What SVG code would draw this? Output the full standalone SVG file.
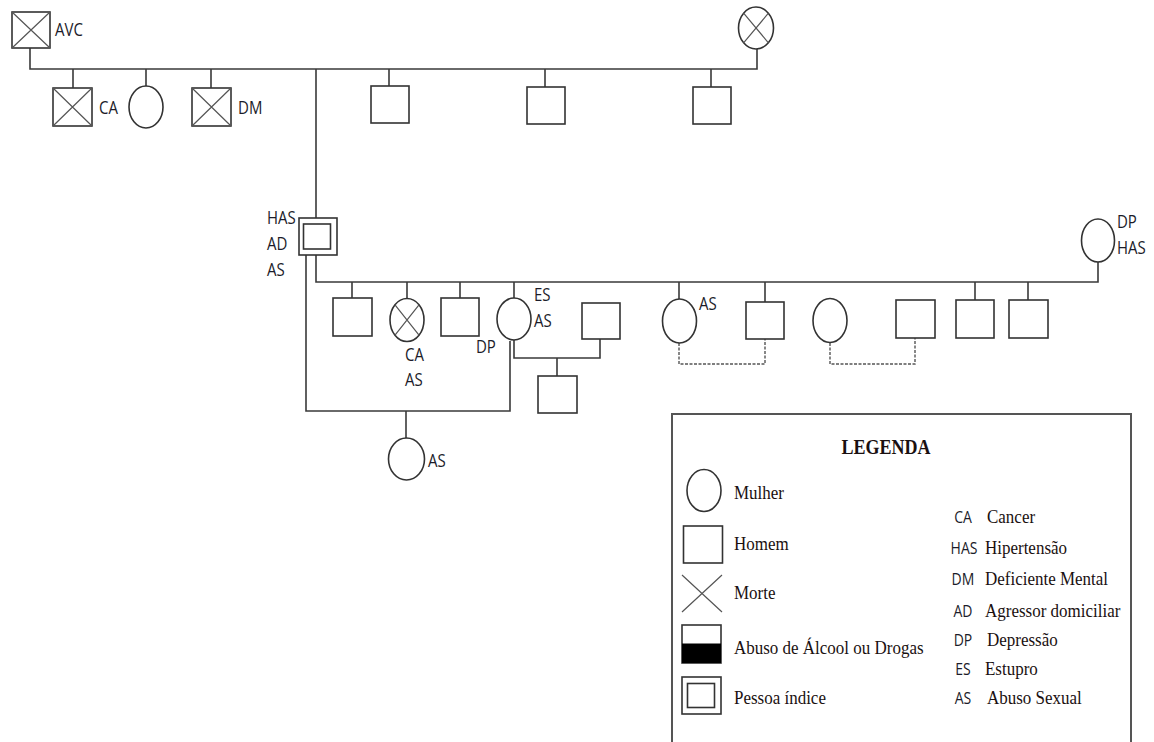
<svg xmlns="http://www.w3.org/2000/svg" width="1154" height="742" viewBox="0 0 1154 742">
<style>
.s{fill:#fff;stroke:#333;stroke-width:1.6}
.x{stroke:#555;stroke-width:1.2;fill:none}
.ln{stroke:#3a3a3a;stroke-width:1.6;fill:none}
.d{stroke:#555;stroke-width:1.4;fill:none;stroke-dasharray:3 1.5}
.lb,.lg,.ab,.tt{transform-box:fill-box;transform-origin:50% 50%;transform:scaleY(1.15)}
.lb{font-family:"Open Sans","Liberation Sans",sans-serif;font-size:15px;fill:#1c1c2a}
.lg{font-family:"Liberation Serif","Times New Roman",serif;font-size:17px;fill:#1a1010}
.ab{font-family:"Open Sans","Liberation Sans",sans-serif;font-size:14px;fill:#1c1c2a;text-anchor:middle}
</style>
<rect width="1154" height="742" fill="#fff"/>
<g id="connectors">
<path class="ln" d="M30 48V69H757V49"/>
<path class="ln" d="M73 69V88M146 69V86M211 69V88M316 69V218M389 69V86M545 69V87M711 69V87"/>
<path class="ln" d="M316 255V282H1098V262"/>
<path class="ln" d="M352 282V298M407 282V298M460 282V298M514 282V298M679 282V299M765 282V302M975 282V300M1028 282V300"/>
<path class="ln" d="M306 255V411H510V341"/>
<path class="ln" d="M406 411V438"/>
<path class="ln" d="M514 340V358H600V339M557 358V376"/>
<path class="d" d="M679 343V364H765V339"/>
<path class="d" d="M830 343V364H915V338"/>
</g>
<g id="n-avc"><rect class="s" x="12" y="12" width="38" height="36"/><path class="x" d="M12 12L50 48M50 12L12 48"/><text class="lb" x="55" y="35">AVC</text></g>
<g id="n-top-wife"><ellipse class="s" cx="756" cy="28" rx="17.5" ry="21"/><path class="x" d="M743.6 13.2L768.4 42.8M768.4 13.2L743.6 42.8"/></g>
<g id="n-ca"><rect class="s" x="53" y="88" width="39" height="38"/><path class="x" d="M53 88L92 126M92 88L53 126"/><text class="lb" x="99" y="113">CA</text></g>
<g id="n-f1"><ellipse class="s" cx="146" cy="107" rx="17" ry="21"/></g>
<g id="n-dm"><rect class="s" x="192" y="88" width="39" height="38"/><path class="x" d="M192 88L231 126M231 88L192 126"/><text class="lb" x="238" y="113">DM</text></g>
<g id="n-m1"><rect class="s" x="371" y="86" width="38" height="37"/></g>
<g id="n-m2"><rect class="s" x="527" y="87" width="38" height="37"/></g>
<g id="n-m3"><rect class="s" x="693" y="87" width="38" height="37"/></g>
<g id="n-index"><rect class="s" x="299" y="218" width="38" height="37"/><rect class="s" x="303.5" y="224" width="27" height="25"/><text class="lb" x="267" y="223">HAS</text><text class="lb" x="267" y="249">AD</text><text class="lb" x="267" y="275">AS</text></g>
<g id="n-wife2"><ellipse class="s" cx="1098" cy="240.5" rx="16.5" ry="21.5"/><text class="lb" x="1117" y="227">DP</text><text class="lb" x="1117" y="253">HAS</text></g>
<g id="n-c1"><rect class="s" x="333" y="298" width="39" height="38"/></g>
<g id="n-c2"><ellipse class="s" cx="407" cy="320" rx="17" ry="21.5"/><path class="x" d="M395 304.8L419 335.2M419 304.8L395 335.2"/><text class="lb" x="405" y="360">CA</text><text class="lb" x="405" y="385">AS</text></g>
<g id="n-c3"><rect class="s" x="441" y="298" width="38" height="38"/><text class="lb" x="476" y="352">DP</text></g>
<g id="n-es"><ellipse class="s" cx="514" cy="319" rx="17" ry="21"/><text class="lb" x="534" y="300">ES</text><text class="lb" x="534" y="326">AS</text></g>
<g id="n-es-partner"><rect class="s" x="582" y="303" width="38" height="36"/></g>
<g id="n-es-child"><rect class="s" x="538" y="376" width="39" height="37"/></g>
<g id="n-index-child"><ellipse class="s" cx="406.5" cy="459" rx="18" ry="21"/><text class="lb" x="428" y="466">AS</text></g>
<g id="n-c5"><ellipse class="s" cx="679.5" cy="321" rx="17" ry="22"/><text class="lb" x="699" y="309">AS</text></g>
<g id="n-c6"><rect class="s" x="746" y="302" width="38" height="37"/></g>
<g id="n-c7"><ellipse class="s" cx="830" cy="320.5" rx="17" ry="22"/></g>
<g id="n-c7-partner"><rect class="s" x="896" y="300" width="39" height="38"/></g>
<g id="n-c8"><rect class="s" x="956" y="300" width="38" height="38"/></g>
<g id="n-c9"><rect class="s" x="1009" y="300" width="39" height="38"/></g>
<g id="legend">
<rect x="672" y="414" width="459" height="340" fill="none" stroke="#555" stroke-width="2"/>
<text class="tt" x="886" y="453" text-anchor="middle" font-family="Liberation Serif,serif" font-weight="bold" font-size="18" fill="#1a1010">LEGENDA</text>
<ellipse class="s" cx="704" cy="490.5" rx="17" ry="21"/><text class="lg" x="734" y="498">Mulher</text>
<rect class="s" x="683.5" y="526" width="39" height="37"/><text class="lg" x="734" y="549">Homem</text>
<path class="x" d="M682 575L722 612M722 575L682 612"/><text class="lg" x="734" y="598">Morte</text>
<rect class="s" x="682" y="625" width="39" height="38"/><rect x="682" y="643.5" width="39" height="19.5" fill="#000"/><text class="lg" x="734" y="653">Abuso de Álcool ou Drogas</text>
<rect class="s" x="682" y="677" width="39" height="37"/><rect class="s" x="687.5" y="683.5" width="27" height="24"/><text class="lg" x="734" y="703">Pessoa índice</text>
<text class="ab" x="963" y="522">CA</text><text class="lg" x="987" y="522">Cancer</text>
<text class="ab" x="964" y="553">HAS</text><text class="lg" x="985" y="553">Hipertensão</text>
<text class="ab" x="963" y="584">DM</text><text class="lg" x="985" y="584">Deficiente Mental</text>
<text class="ab" x="963" y="616">AD</text><text class="lg" x="985" y="616">Agressor domiciliar</text>
<text class="ab" x="963" y="645">DP</text><text class="lg" x="987" y="645">Depressão</text>
<text class="ab" x="963" y="674">ES</text><text class="lg" x="985" y="674">Estupro</text>
<text class="ab" x="963" y="703">AS</text><text class="lg" x="987" y="703">Abuso Sexual</text>
</g>
</svg>
